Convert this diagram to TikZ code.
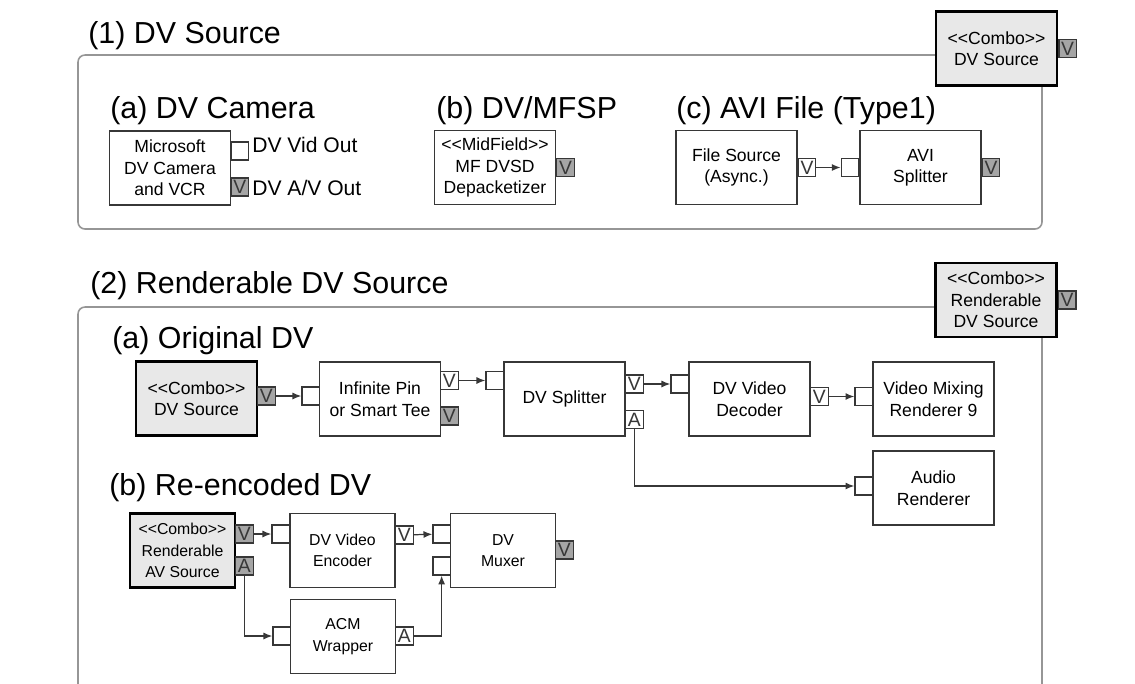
\documentclass[tikz,border=0pt]{standalone}
\usepackage{fontspec}
\setmainfont{Liberation Sans}
\usetikzlibrary{arrows.meta,positioning,calc}

\definecolor{combofill}{RGB}{232,232,232}
\definecolor{pinfill}{RGB}{165,165,165}
\definecolor{framegray}{RGB}{150,150,150}
\definecolor{edgegray}{RGB}{55,55,55}

% stereotype text, kern keeps << >> from turning into guillemets
\newcommand{\stereo}[1]{<\kern0pt<#1>\kern0pt>}

\tikzset{
  filter/.style={draw=edgegray, line width=0.8pt, fill=white, align=center,
    minimum width=2.42cm, minimum height=1.48cm, inner sep=0pt,
    font=\fontsize{10}{12.2}\selectfont},
  narrow/.style={minimum width=2.1cm, font=\fontsize{9}{12.2}\selectfont},
  combo/.style={filter, fill=combofill, draw=black, line width=1.5pt},
  pinbox/.style={draw=edgegray, line width=0.7pt, fill=white,
    minimum width=0.35cm, minimum height=0.36cm, inner sep=0pt,
    font=\fontsize{11}{11}\selectfont, text=edgegray},
  pingray/.style={pinbox, fill=pinfill},
  heading/.style={font=\fontsize{17.3}{20}\selectfont, anchor=base west, inner sep=0pt},
  pinlabel/.style={font=\fontsize{12}{14}\selectfont, anchor=base west, inner sep=0pt},
  panel/.style={draw=framegray, line width=0.9pt, rounded corners=4pt},
  link/.style={draw=edgegray, line width=0.7pt, -{Latex[length=5pt,width=4pt]}}
}

\begin{document}
\begin{tikzpicture}[x=0.02cm, y=-0.02cm]
  \useasboundingbox (0,0) rectangle (1135,683);

  % -- panel frames --
  \draw[panel] (78,55) rectangle (1042,229);
  \draw[panel] (78,700) -- (78,307) -- (1042,307) -- (1042,700);

  % ===== (1) DV Source =====
  \node[heading] (title1) at (88,43) {(1) DV Source};
  \node[combo] (combo1) at (996.5,48.5) {\stereo{Combo}\\DV Source};
  \node[pingray, anchor=west] (combo1v) at (combo1.east) {V};

  % (a) camera
  \node[heading] (head1a) at (110,118) {(a) DV Camera};
  \node[filter] (camera) at (170,168) {Microsoft\\DV Camera\\and VCR};
  \node[pinbox, anchor=west] (camvid) at (230.5,151) {};
  \node[pingray, anchor=west] (camav) at (230.5,187) {V};
  \node[pinlabel] (camvidlbl) at (252,152) {DV Vid Out};
  \node[pinlabel] (camavlbl) at (252,195) {DV A/V Out};

  % (b) MFSP
  \node[heading] (head1b) at (436,118) {(b) DV/MFSP};
  \node[filter] (mfdvsd) at (495,167.5) {\stereo{MidField}\\MF DVSD\\Depacketizer};
  \node[pingray, anchor=west] (mfv) at (mfdvsd.east) {V};

  % (c) AVI file
  \node[heading] (head1c) at (676,118) {(c) AVI File (Type1)};
  \node[filter] (filesrc) at (736.5,167.5) {File Source\\(Async.)};
  \node[pinbox, anchor=west] (filev) at (filesrc.east) {V};
  \node[filter] (avisplit) at (920.5,167.5) {AVI\\Splitter};
  \node[pinbox, anchor=east] (aviin) at (avisplit.west) {};
  \node[pingray, anchor=west] (aviv) at (avisplit.east) {V};
  \draw[link] (filev) -- (aviin);

  % ===== (2) Renderable DV Source =====
  \node[heading] (title2) at (90,293) {(2) Renderable DV Source};
  \node[combo] (combo2) at (996,300) {\stereo{Combo}\\Renderable\\DV Source};
  \node[pingray, anchor=west] (combo2v) at (combo2.east) {V};

  % (a) original DV
  \node[heading] (head2a) at (112,348) {(a) Original DV};
  \node[combo] (dvsrc) at (196.5,398.5) {\stereo{Combo}\\DV Source};
  \node[pingray, anchor=west] (dvsrcv) at (257,396) {V};

  \node[filter] (infpin) at (380,399) {Infinite Pin\\or Smart Tee};
  \node[pinbox, anchor=east] (infin) at (320,396) {};
  \node[pinbox, anchor=west] (infv) at (440,380.5) {V};
  \node[pingray, anchor=west] (infv2) at (440,416) {V};

  \node[filter] (dvsplit) at (564.5,399) {DV Splitter};
  \node[pinbox, anchor=east] (splitin) at (504,380.5) {};
  \node[pinbox, anchor=west] (splitv) at (625,384) {V};
  \node[pinbox, anchor=west] (splita) at (625,419.5) {A};

  \node[filter] (dvdec) at (749.5,399) {DV Video\\Decoder};
  \node[pinbox, anchor=east] (decin) at (689,384) {};
  \node[pinbox, anchor=west] (decv) at (810,396.5) {V};

  \node[filter] (vmr9) at (933.5,399) {Video Mixing\\Renderer 9};
  \node[pinbox, anchor=east] (vmrin) at (873,396.5) {};

  \node[filter] (audio) at (933.5,488) {Audio\\Renderer};
  \node[pinbox, anchor=east] (audin) at (873,486) {};

  \draw[link] (dvsrcv) -- (infin);
  \draw[link] (infv) -- (splitin);
  \draw[link] (splitv) -- (decin);
  \draw[link] (decv) -- (vmrin);
  \draw[link] (splita.south) |- (audin.west);

  % (b) re-encoded DV
  \node[heading] (head2b) at (109,495) {(b) Re-encoded DV};
  \node[combo, narrow] (avsrc) at (182.5,550.5) {\stereo{Combo}\\Renderable\\AV Source};
  \node[pingray, anchor=west] (avsrcv) at (235,534) {V};
  \node[pingray, anchor=west] (avsrca) at (235,566) {A};

  \node[filter, narrow] (dvenc) at (342.5,550.5) {DV Video\\Encoder};
  \node[pinbox, anchor=east] (encin) at (290,534) {};
  \node[pinbox, anchor=west] (encv) at (395,535) {V};

  \node[filter, narrow] (muxer) at (503,550.5) {DV\\Muxer};
  \node[pinbox, anchor=east] (muxin) at (451,534) {};
  \node[pinbox, anchor=east] (muxin2) at (451,566) {};
  \node[pingray, anchor=west] (muxv) at (555,550) {V};

  \node[filter, narrow] (acm) at (343,636.5) {ACM\\Wrapper};
  \node[pinbox, anchor=east] (acmin) at (291,636) {};
  \node[pinbox, anchor=west] (acma) at (395,636) {A};

  \draw[link] (avsrcv) -- (encin);
  \draw[link] (encv) -- (muxin);
  \draw[link] (avsrca.south) |- (acmin.west);
  \draw[link] (acma.east) -| (muxin2.south);

\end{tikzpicture}
\end{document}
